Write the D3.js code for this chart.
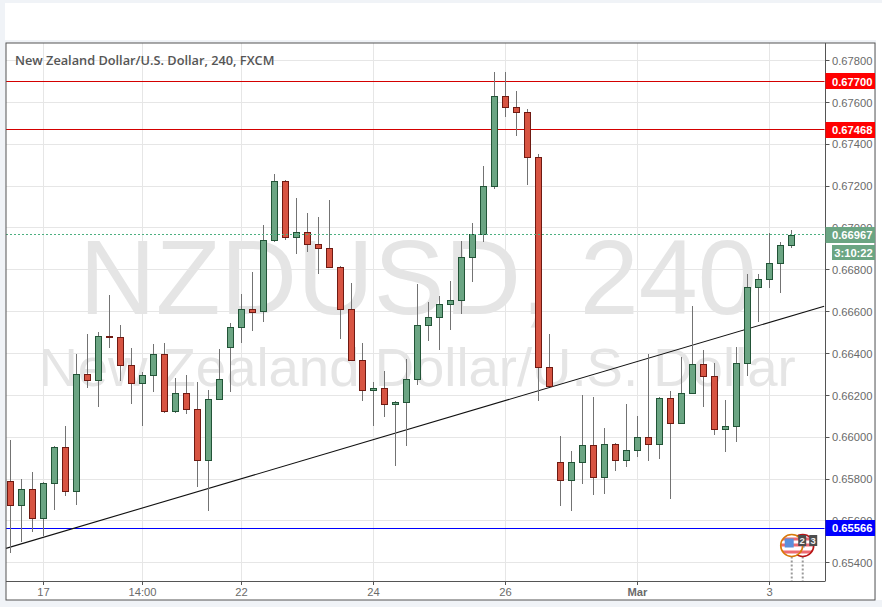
<!DOCTYPE html>
<html>
<head>
<meta charset="utf-8">
<style>
html,body{margin:0;padding:0;background:#f0f3f7;overflow:hidden}
svg{display:block}
</style>
<script src="https://cdnjs.cloudflare.com/ajax/libs/d3/7.8.5/d3.min.js"></script>
</head>
<body>
<svg id="c" width="882" height="607"></svg>
<script>
const opens=[.65789,.65674,.65751,.65612,.65780,.65952,.65741,.66301,.66272,.66482,.66478,.66344,.66258,.66296,.66396,.66124,.66210,.66133,.65890,.66181,.66430,.66525,.66612,.66600,.66941,.67223,.66956,.66980,.66922,.66903,.66811,.66612,.66368,.66224,.66234,.66157,.66167,.66277,.66535,.66573,.66635,.66655,.66860,.66970,.67200,.67630,.67577,.67553,.67338,.66334,.65880,.65794,.65880,.65961,.65808,.65966,.65890,.65937,.66000,.65966,.66186,.66066,.66210,.66349,.66291,.66038,.66052,.66353,.66717,.66755,.66831,.66917];
const closes=[.65674,.65751,.65612,.65780,.65952,.65741,.66301,.66272,.66482,.66478,.66344,.66258,.66296,.66396,.66124,.66210,.66133,.65890,.66181,.66277,.66525,.66612,.66600,.66941,.67223,.66956,.66980,.66922,.66903,.66811,.66612,.66368,.66224,.66234,.66157,.66167,.66277,.66535,.66573,.66635,.66655,.66860,.66970,.67200,.67630,.67577,.67553,.67338,.66334,.66241,.65794,.65880,.65961,.65808,.65966,.65890,.65937,.66000,.65966,.66186,.66066,.66210,.66349,.66291,.66038,.66052,.66353,.66717,.66755,.66831,.66917,.66965];
const highs=[.65987,.65800,.65834,.65784,.65958,.66054,.66398,.66493,.66503,.66680,.66536,.66426,.66310,.66446,.66450,.66283,.66297,.66264,.66226,.66422,.66546,.66685,.66790,.67015,.67258,.67230,.67144,.67072,.67053,.67134,.66819,.66737,.66450,.66262,.66317,.66171,.66374,.66732,.66646,.66675,.66747,.66938,.67024,.67297,.67746,.67746,.67655,.67569,.67354,.66493,.66006,.65934,.66202,.66192,.66043,.65971,.66159,.66101,.66398,.66191,.66219,.66382,.66627,.66417,.66353,.66178,.66430,.66779,.66779,.66975,.66932,.66991];
const lows=[.65448,.65500,.65548,.65528,.65652,.65720,.65677,.66237,.66146,.66428,.66270,.66160,.66055,.66218,.66117,.66117,.66112,.65763,.65649,.66181,.66218,.66452,.66509,.66552,.66935,.66944,.66877,.66887,.66782,.66808,.66470,.66368,.66175,.66055,.66098,.65864,.65959,.66251,.66461,.66418,.66514,.66590,.66743,.66935,.67188,.67528,.67437,.67207,.66175,.66241,.65673,.65649,.65778,.65725,.65730,.65840,.65859,.65907,.65888,.65897,.65706,.66066,.66210,.66146,.66012,.65931,.65978,.66294,.66552,.66715,.66691,.66906];
const priceTicks=[.654,.656,.658,.660,.662,.664,.666,.668,.670,.672,.674,.676,.678];
const dateTickIndex=[3,12,21,33,45,57,69];
const dateTickLabels=["17","14:00","22","24","26","Mar","3"];
const redLevels=[.67700,.67468];
const blueLevel=.65566;
const lastPrice=.66967;
const countdown="3:10:22";
const trendIndex=[-0.41,73.97];
const trendPrice=[.65469,.66626];
const eventIndex=[71.02,72.02];
const eventBadges=["2","3"];
const titleText="New Zealand Dollar/U.S. Dollar, 240, FXCM";
const watermarkBig="NZDUSD, 240";
const watermarkSmall="New Zealand Dollar/U.S. Dollar";

const L=6,R=825.5,T=43,B=581,OR=875,OB=600;
const x=d3.scaleLinear().domain([0,71]).range([10.5,791.5]);
const y=d3.scaleLinear().domain([.654,.678]).range([562.8,60.5]);
const snap=v=>Math.floor(v)+.5;
const fmt=d3.format(".5f");
const svg=d3.select("#c");
const sans="'Liberation Sans',Arial,sans-serif";

svg.append("rect").attr("x",5).attr("y",3).attr("width",877).attr("height",37).attr("fill","#fff");
svg.append("rect").attr("x",5).attr("y",40).attr("width",877).attr("height",3).attr("fill","#f0f3f7");
svg.append("rect").attr("x",876).attr("y",40).attr("width",6).attr("height",560).attr("fill","#fff");
svg.append("rect").attr("x",L).attr("y",T).attr("width",OR-L).attr("height",OB-T).attr("fill","#fff");

const grid=svg.append("g").attr("stroke","#e6e6e6").attr("stroke-width",1);
grid.selectAll(".h").data(priceTicks).join("line")
  .attr("x1",L).attr("x2",R).attr("y1",d=>snap(y(d))).attr("y2",d=>snap(y(d)));
grid.selectAll(".v").data(dateTickIndex).join("line")
  .attr("y1",T).attr("y2",B).attr("x1",d=>x(d)).attr("x2",d=>x(d));

svg.append("text").text(watermarkBig).attr("x",418).attr("y",314).attr("text-anchor","middle")
  .attr("font-family",sans).attr("font-size",106).attr("fill","#e5e5e5");
svg.append("text").text(watermarkSmall).attr("x",417).attr("y",385.5).attr("text-anchor","middle")
  .attr("font-family",sans).attr("font-size",54.5).attr("fill","#e5e5e5");

svg.selectAll(".red").data(redLevels).join("line")
  .attr("x1",L).attr("x2",R-1).attr("y1",d=>snap(y(d))).attr("y2",d=>snap(y(d)))
  .attr("stroke","#d40000");
svg.append("line").attr("x1",L).attr("x2",R-1).attr("y1",snap(y(blueLevel))).attr("y2",snap(y(blueLevel)))
  .attr("stroke","#0000ff");
svg.append("line").attr("x1",x(trendIndex[0])).attr("x2",x(trendIndex[1]))
  .attr("y1",y(trendPrice[0])).attr("y2",y(trendPrice[1]))
  .attr("stroke","#111").attr("stroke-width",1.1);

const idx=d3.range(opens.length);
const up=i=>closes[i]>=opens[i];
const cg=svg.append("g");
cg.selectAll(".w").data(idx).join("line")
  .attr("x1",d=>x(d)).attr("x2",d=>x(d))
  .attr("y1",d=>y(highs[d])).attr("y2",d=>y(lows[d]))
  .attr("stroke","#737373").attr("stroke-width",1).attr("shape-rendering","crispEdges");
cg.selectAll(".b").data(idx).join("rect")
  .attr("x",d=>x(d)-3).attr("width",6)
  .attr("y",d=>snap(y(Math.max(opens[d],closes[d]))))
  .attr("height",d=>Math.max(1,Math.round(Math.abs(y(opens[d])-y(closes[d])))))
  .attr("fill",d=>up(d)?"#6ba583":"#d75442")
  .attr("stroke",d=>up(d)?"#225437":"#6f1a12")
  .attr("stroke-width",1);

svg.append("line").attr("x1",L).attr("x2",R).attr("y1",snap(y(lastPrice))).attr("y2",snap(y(lastPrice)))
  .attr("stroke","#4caf80").attr("stroke-dasharray","2 2");

// frame and axes
svg.append("rect").attr("x",L).attr("y",T).attr("width",OR-L).attr("height",OB-T)
  .attr("fill","none").attr("stroke","#555");
svg.append("line").attr("x1",R).attr("x2",R).attr("y1",T).attr("y2",B).attr("stroke","#555");
svg.append("line").attr("x1",L).attr("x2",R).attr("y1",B+.5).attr("y2",B+.5).attr("stroke","#555");

const pa=svg.append("g");
pa.selectAll("line").data(priceTicks).join("line")
  .attr("x1",R).attr("x2",R+4).attr("y1",d=>snap(y(d))).attr("y2",d=>snap(y(d))).attr("stroke","#555");
pa.selectAll("text").data(priceTicks).join("text")
  .attr("x",832).attr("y",d=>y(d)+4.2).text(d=>fmt(d))
  .attr("font-family",sans).attr("font-size",11.2).attr("fill","#6a6a6a");

const da=svg.append("g");
da.selectAll("line").data(dateTickIndex).join("line")
  .attr("x1",d=>x(d)).attr("x2",d=>x(d)).attr("y1",B).attr("y2",B+4).attr("stroke","#555");
da.selectAll("text").data(dateTickIndex).join("text")
  .attr("x",d=>x(d)).attr("y",B+15).attr("text-anchor","middle")
  .text((d,i)=>dateTickLabels[i])
  .attr("font-family",sans).attr("font-size",11.2).attr("fill","#6a6a6a")
  .attr("font-weight",(d,i)=>dateTickLabels[i]==="Mar"?"bold":"normal");

function tag(price,fill){
  const c=y(price);
  svg.append("rect").attr("x",R).attr("y",Math.round(c)-8).attr("width",OR-R).attr("height",16).attr("fill",fill);
  svg.append("text").attr("x",832).attr("y",c+4.2).text(fmt(price))
    .attr("font-family",sans).attr("font-size",11.2).attr("font-weight","bold").attr("fill","#fff");
}
redLevels.forEach(d=>tag(d,"#ff0000"));
tag(blueLevel,"#0000ff");
tag(lastPrice,"#6ba583");
svg.append("rect").attr("x",832).attr("y",245).attr("width",OR-832).attr("height",15).attr("fill","#6ba583");
svg.append("text").attr("x",853.5).attr("y",256.6).attr("text-anchor","middle").text(countdown)
  .attr("font-family",sans).attr("font-size",11.2).attr("font-weight","bold").attr("fill","#fff");

svg.append("text").text(titleText).attr("x",15).attr("y",65)
  .attr("font-family","'Open Sans',sans-serif").attr("font-weight",600).attr("font-size",12.75).attr("fill","#555");

// event markers
const defs=svg.append("defs");
const cy=545.5,r=11;
[1,0].forEach(k=>{
  const cx=x(eventIndex[k]);
  defs.append("clipPath").attr("id","ev"+k).append("circle").attr("cx",cx).attr("cy",cy).attr("r",r);
  svg.append("line").attr("x1",cx).attr("x2",cx).attr("y1",cy+r).attr("y2",B)
    .attr("stroke","#999").attr("stroke-width",2).attr("stroke-dasharray","2 2");
  const g=svg.append("g").attr("clip-path","url(#ev"+k+")");
  g.append("rect").attr("x",cx-r).attr("y",cy-r).attr("width",2*r).attr("height",2*r).attr("fill","#fff");
  [-8,-2,5].forEach(o=>g.append("rect").attr("x",cx-r).attr("y",cy+o).attr("width",2*r).attr("height",3).attr("fill","#ee6a72"));
  g.append("rect").attr("x",cx-7).attr("y",cy-7).attr("width",9).attr("height",9).attr("fill","#5a8fdc");
  svg.append("circle").attr("cx",cx).attr("cy",cy).attr("r",r).attr("fill","none")
    .attr("stroke",k?"#b81414":"#d87a0a").attr("stroke-width",1.6);
});
[0,1].forEach(k=>{
  const cx=x(eventIndex[k])+10.5;
  svg.append("rect").attr("x",cx-4).attr("y",535).attr("width",8).attr("height",11).attr("fill","#4d4d4d");
  svg.append("text").attr("x",cx).attr("y",544).attr("text-anchor","middle").text(eventBadges[k])
    .attr("font-family",sans).attr("font-size",9.5).attr("font-weight","bold").attr("fill","#eee");
});
</script>
</body>
</html>
